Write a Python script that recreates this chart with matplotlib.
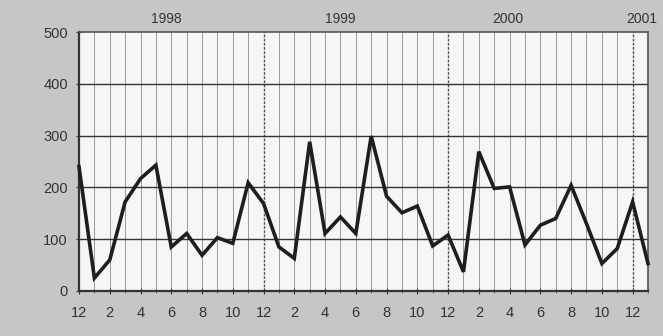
import matplotlib
matplotlib.use("Agg")
import matplotlib.pyplot as plt
import numpy as np

# Monthly values, Dec 1997 .. Jan 2001
values = [240, 25, 60, 172, 217, 243, 85, 111, 69, 103, 92, 209,
          169, 85, 63, 288, 111, 143, 111, 299, 183, 151, 164, 87,
          108, 37, 269, 198, 201, 89, 127, 140, 204, 130, 53, 82,
          172, 53]
month_labels = ["12", "2", "4", "6", "8", "10", "12", "2", "4", "6", "8", "10",
                "12", "2", "4", "6", "8", "10", "12"]
year_labels = ["1998", "1999", "2000", "2001"]
year_pos = [5.7, 17.0, 27.9, 37.3]
y_ticks = [0, 100, 200, 300, 400, 500]

plt.rcParams['font.family'] = ['Liberation Sans', 'DejaVu Sans']

fig = plt.figure(figsize=(6.63, 3.36), dpi=100, facecolor="#c6c6c6")
ax = fig.add_axes([79/663, 1 - 291/336, (648-79)/663, (291-32)/336])
ax.set_facecolor("#f6f6f6")

n = len(values)
x = np.arange(n)
ax.set_xlim(0, n - 1)
ax.set_ylim(0, 500)

# vertical month gridlines
for i in range(1, n - 1):
    if i % 12 == 0:
        ax.axvline(i, color="#555555", lw=1.0, ls=(0, (2, 1)), zorder=1)
    else:
        ax.axvline(i, color="#9a9a9a", lw=0.7, zorder=1)
for yv in y_ticks[1:-1]:
    ax.axhline(yv, color="#333333", lw=1.0, zorder=1)

ax.plot(x, values, color="#1e1e1e", lw=2.6, solid_joinstyle="miter", zorder=3, clip_on=False)

ax.set_yticks(y_ticks)
ax.set_yticklabels([str(v) for v in y_ticks], fontsize=10.5, color="#333333")
ax.set_xticks(np.arange(0, n - 1, 2))
ax.set_xticklabels(month_labels, fontsize=10.5, color="#333333")
ax.set_xticks(np.arange(0, n), minor=True)
ax.tick_params(axis="x", which="major", length=4, direction="inout", pad=9, color="#333333")
ax.tick_params(axis="x", which="minor", length=3, direction="inout", color="#555555")
ax.tick_params(axis="y", length=4, direction="inout", pad=6, color="#333333")

for s in ["left", "bottom"]:
    ax.spines[s].set_color("#333333")
    ax.spines[s].set_linewidth(1.6)
for s in ["top", "right"]:
    ax.spines[s].set_color("#555555")
    ax.spines[s].set_linewidth(1.2)

for lab, p in zip(year_labels, year_pos):
    if lab == year_labels[-1]:
        ax.text(p + 0.3, 525, lab, ha="right", va="center", fontsize=10,
                color="#333333", clip_on=False)
    else:
        ax.text(p, 525, lab, ha="center", va="center", fontsize=10,
                color="#333333", clip_on=False)

fig.savefig("out.png", dpi=100, facecolor=fig.get_facecolor())
